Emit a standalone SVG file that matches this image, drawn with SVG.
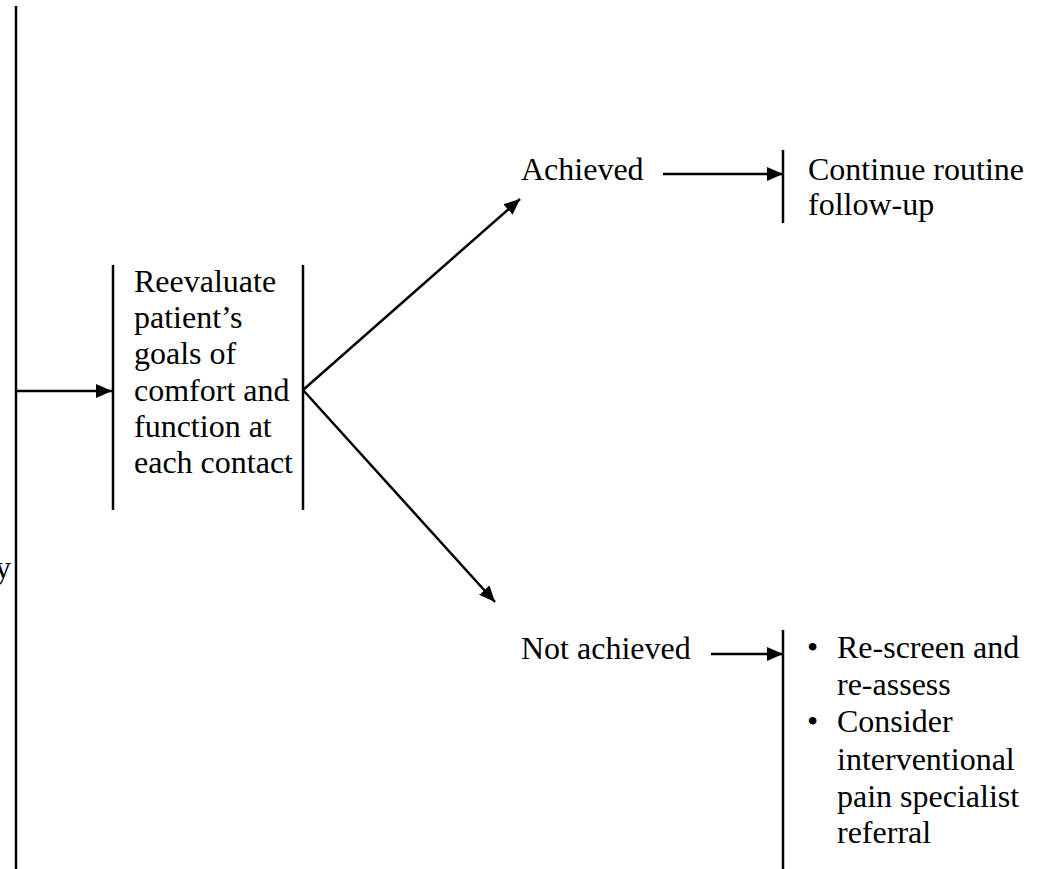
<svg xmlns="http://www.w3.org/2000/svg" width="1042" height="869" viewBox="0 0 1042 869">
<style>
text{font-family:"Liberation Serif","Times New Roman",serif;font-size:32px;fill:#000}
.ln{stroke:#000;stroke-width:2.5;fill:none}
</style>
<defs>
<marker id="ah" markerWidth="16" markerHeight="14" refX="16" refY="7" orient="auto" markerUnits="userSpaceOnUse">
<path d="M0,0 L16,7 L0,14 Z" fill="#000"/>
</marker>
</defs>
<rect width="1042" height="869" fill="#fff"/>
<g id="left-node">
<line class="ln" x1="16" y1="6" x2="16" y2="869"/>
<text x="11" y="578" text-anchor="end">y</text>
</g>
<g id="reevaluate">
<line class="ln" x1="113" y1="265" x2="113" y2="510"/>
<line class="ln" x1="303" y1="265" x2="303" y2="510"/>
<text x="134" y="292">Reevaluate</text>
<text x="134" y="328">patient’s</text>
<text x="134" y="364">goals of</text>
<text x="134" y="401">comfort and</text>
<text x="134" y="437">function at</text>
<text x="134" y="473">each contact</text>
</g>
<g id="achieved">
<text x="521" y="180">Achieved</text>
</g>
<g id="continue">
<line class="ln" x1="783" y1="150" x2="783" y2="223"/>
<text x="808" y="180">Continue routine</text>
<text x="808" y="215">follow-up</text>
</g>
<g id="not-achieved">
<text x="521" y="659">Not achieved</text>
</g>
<g id="rescreen">
<line class="ln" x1="783" y1="630" x2="783" y2="869"/>
<text x="807" y="658">•</text>
<text x="837" y="658">Re-screen and</text>
<text x="837" y="695">re-assess</text>
<text x="807" y="732">•</text>
<text x="837" y="732">Consider</text>
<text x="837" y="770">interventional</text>
<text x="837" y="807">pain specialist</text>
<text x="837" y="843">referral</text>
</g>
<g id="connectors">
<line class="ln" x1="16" y1="391" x2="112" y2="391" marker-end="url(#ah)"/>
<line class="ln" x1="303" y1="390" x2="520" y2="199" marker-end="url(#ah)"/>
<line class="ln" x1="303" y1="390" x2="495" y2="602" marker-end="url(#ah)"/>
<line class="ln" x1="663" y1="174" x2="783" y2="174" marker-end="url(#ah)"/>
<line class="ln" x1="711" y1="654" x2="783" y2="654" marker-end="url(#ah)"/>
</g>
</svg>
